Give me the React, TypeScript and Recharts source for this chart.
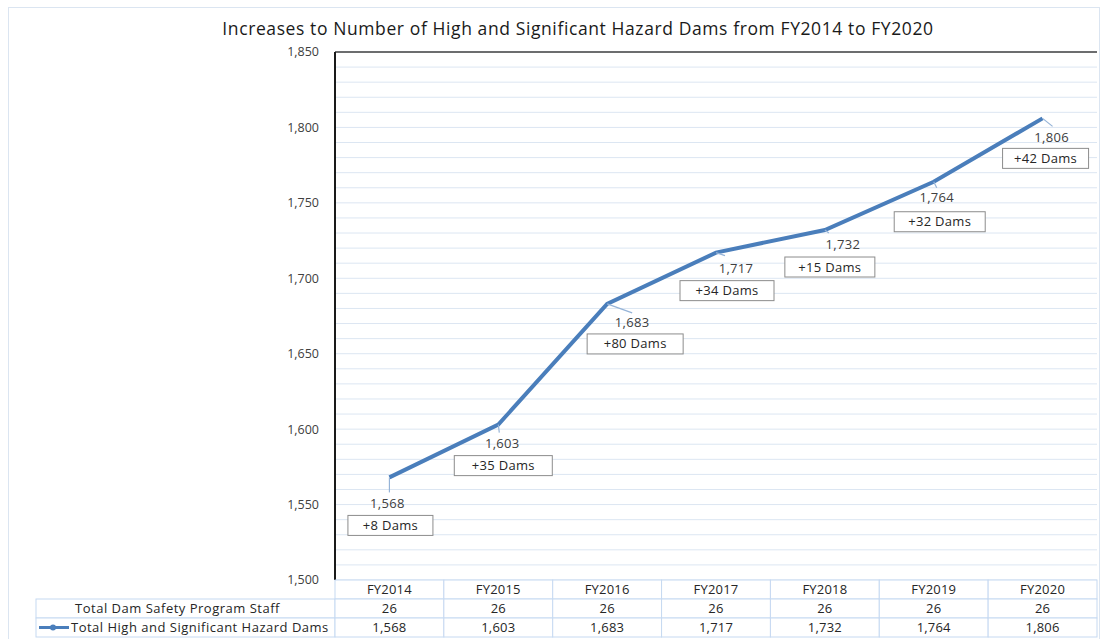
import { LineChart, Line, XAxis, YAxis, CartesianGrid, ReferenceLine, LabelList } from "recharts";

const fiscalYears = ["FY2014", "FY2015", "FY2016", "FY2017", "FY2018", "FY2019", "FY2020"];
const hazardDams = [1568, 1603, 1683, 1717, 1732, 1764, 1806];
const programStaff = [26, 26, 26, 26, 26, 26, 26];
const damIncreases = [8, 35, 80, 34, 15, 32, 42];
const rowLabels = ["Total Dam Safety Program Staff", "Total High and Significant Hazard Dams"];

// minor gridlines every 10 dams, labels only on the 50s
const gridTicks: number[] = [];
for (let v = 1500; v <= 1850; v += 10) gridTicks.push(v);

const chartData = fiscalYears.map((year, i) => ({
  year,
  dams: hazardDams[i],
  staff: programStaff[i],
  increase: damIncreases[i],
}));

// manual label placement, like the hand-dragged excel labels
const labelNudge = [
  { dx: -2, dy: 26, bx: 1, by: 38, bw: 85, lx: 0, ly: 15 },
  { dx: 4, dy: 19, bx: 5, by: 31, bw: 98, lx: 1, ly: 8 },
  { dx: 25, dy: 19, bx: 28, by: 30, bw: 96, lx: 25, ly: 9 },
  { dx: 20, dy: 16, bx: 11, by: 28, bw: 94, lx: 9, ly: 3 },
  { dx: 18, dy: 14, bx: 5, by: 27, bw: 90, lx: 4, ly: 3 },
  { dx: 3, dy: 16, bx: 6, by: 30, bw: 91, lx: 3, ly: 6 },
  { dx: 9, dy: 19, bx: 3, by: 30, bw: 86, lx: 10, ly: 8 },
];

const FONT = "'Open Sans', sans-serif";
const W = 1104;
const H = 639;
const PLOT_LEFT = 335;
const PLOT_RIGHT = 1097;
const PLOT_BOTTOM = 580;
const TABLE_LEFT = 36;
const ROW_H = 19;
const BAND = (PLOT_RIGHT - PLOT_LEFT) / fiscalYears.length;
const LINE_COLOR = "#4a7ebb";
const TABLE_BORDER = "#c6d9f1";

const fmt = (v: number) => v.toLocaleString("en-US");

function YTick(props: any) {
  const { x, y, payload } = props;
  if (payload.value % 50 !== 0) return null;
  return (
    <text x={x - 8} y={y} dy="0.35em" textAnchor="end" fontSize={12.5} fill="#404040" fontFamily={FONT}>
      {fmt(payload.value)}
    </text>
  );
}

function TableTick(props: any) {
  const { x, payload } = props;
  const i = payload.index ?? props.index ?? fiscalYears.indexOf(payload.value);
  const left = x - BAND / 2;
  const top = PLOT_BOTTOM;
  const cellText = (cx: number, cy: number, t: string, spacing = 0.2) => (
    <text x={cx} y={cy} dy="0.35em" textAnchor="middle" fontSize={13} letterSpacing={spacing} fill="#262626" fontFamily={FONT}>
      {t}
    </text>
  );
  return (
    <g>
      {i === 0 && (
        <g>
          <rect x={TABLE_LEFT} y={top + ROW_H} width={left - TABLE_LEFT} height={ROW_H} fill="#fff" stroke={TABLE_BORDER} />
          <rect x={TABLE_LEFT} y={top + ROW_H * 2} width={left - TABLE_LEFT} height={ROW_H} fill="#fff" stroke={TABLE_BORDER} />
          {cellText((TABLE_LEFT + left) / 2 - 8, top + ROW_H * 1.5, rowLabels[0], 0.5)}
          <line x1={TABLE_LEFT + 3} x2={TABLE_LEFT + 33} y1={top + ROW_H * 2.5} y2={top + ROW_H * 2.5} stroke={LINE_COLOR} strokeWidth={3} />
          <circle cx={TABLE_LEFT + 17} cy={top + ROW_H * 2.5} r={3} fill={LINE_COLOR} />
          <text x={TABLE_LEFT + 35} y={top + ROW_H * 2.5} dy="0.35em" fontSize={13} letterSpacing={0.5} fill="#262626" fontFamily={FONT}>
            {rowLabels[1]}
          </text>
        </g>
      )}
      <rect x={left} y={top} width={BAND} height={ROW_H} fill="#fff" stroke={TABLE_BORDER} />
      <rect x={left} y={top + ROW_H} width={BAND} height={ROW_H} fill="#fff" stroke={TABLE_BORDER} />
      <rect x={left} y={top + ROW_H * 2} width={BAND} height={ROW_H} fill="#fff" stroke={TABLE_BORDER} />
      {cellText(x, top + ROW_H * 0.5, payload.value)}
      {cellText(x, top + ROW_H * 1.5, String(programStaff[i]))}
      {cellText(x, top + ROW_H * 2.5, fmt(hazardDams[i]))}
    </g>
  );
}

function DamLabel(props: any) {
  const { x, y, index, value } = props;
  const n = labelNudge[index];
  return (
    <g fontFamily={FONT} fontSize={13} letterSpacing={0.3}>
      <line x1={x} y1={y} x2={x + n.lx} y2={y + n.ly} stroke="#95b3d7" strokeWidth={1.2} />
      <text x={x + n.dx} y={y + n.dy} dy="0.35em" textAnchor="middle" fill="#404040">
        {fmt(value)}
      </text>
      <rect x={x + n.bx - n.bw / 2} y={y + n.by} width={n.bw} height={20} fill="#fff" stroke="#8c8c8c" />
      <text x={x + n.bx} y={y + n.by + 10} dy="0.35em" textAnchor="middle" fill="#262626">
        +{damIncreases[index]} Dams
      </text>
    </g>
  );
}

export default function App() {
  return (
    <div style={{ position: "absolute", left: 0, top: 0, width: W, height: H, background: "#fff", fontFamily: FONT }}>
      <div
        style={{
          position: "absolute",
          left: 8,
          top: 7,
          width: 1092,
          height: 640,
          border: "1px solid #dbe5f1",
          boxSizing: "border-box",
        }}
      />
      <div
        style={{
          position: "absolute",
          left: 0,
          width: 1156,
          top: 16,
          textAlign: "center",
          fontSize: 17.5,
          letterSpacing: 0.6,
          color: "#1a1a1a",
          whiteSpace: "nowrap",
        }}
      >
        Increases to Number of High and Significant Hazard Dams from FY2014 to FY2020
      </div>
      <div style={{ position: "absolute", left: 0, top: 0 }}>
        <LineChart width={W} height={H} data={chartData} margin={{ top: 52, right: W - PLOT_RIGHT, left: 0, bottom: 0 }}>
          <CartesianGrid vertical={false} stroke="#dce6f2" />
          <XAxis
            dataKey="year"
            height={H - PLOT_BOTTOM}
            axisLine={false}
            tickLine={false}
            interval={0}
            padding={{ left: BAND / 2, right: BAND / 2 }}
            tick={<TableTick />}
          />
          <YAxis
            width={PLOT_LEFT}
            domain={[1500, 1850]}
            ticks={gridTicks}
            interval={0}
            tickLine={false}
            axisLine={{ stroke: "#1a1a1a", strokeWidth: 2 }}
            tick={<YTick />}
          />
          <YAxis
            yAxisId="right"
            orientation="right"
            width={0}
            domain={[1500, 1850]}
            tick={false}
            tickLine={false}
            axisLine={{ stroke: "#404040", strokeWidth: 1.5 }}
          />
          <ReferenceLine y={1850} stroke="#404040" strokeWidth={1.5} />
          <Line
            dataKey="dams"
            stroke={LINE_COLOR}
            strokeWidth={4}
            dot={false}
            isAnimationActive={false}
          >
            <LabelList dataKey="dams" content={<DamLabel />} />
          </Line>
        </LineChart>
      </div>
    </div>
  );
}
